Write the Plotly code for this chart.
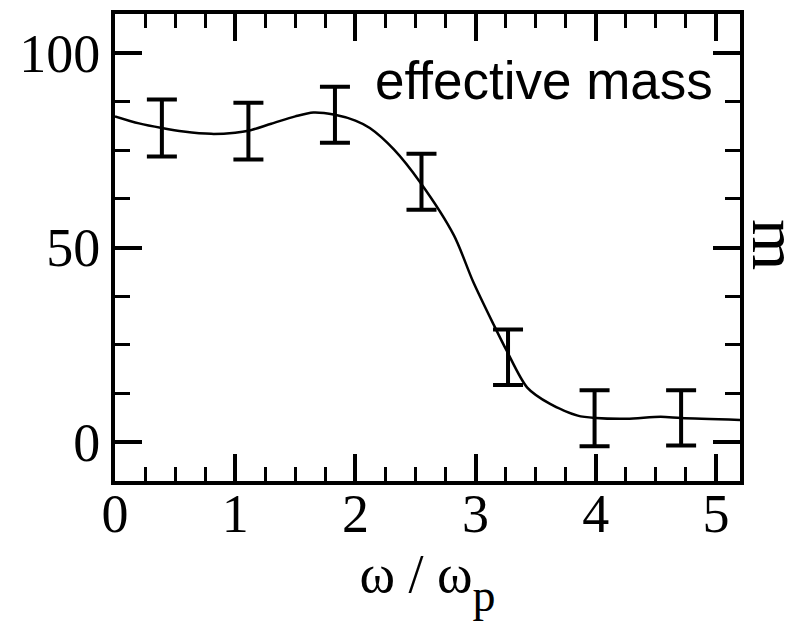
import plotly.graph_objects as go

# Data
pts_x = [0.39, 1.11, 1.83, 2.55, 3.27, 3.99, 4.71]
pts_y = [80.7, 79.9, 84.1, 66.9, 21.8, 6.1, 6.2]
pts_err = [7.3, 7.3, 7.2, 7.2, 7.1, 7.2, 7.1]

curve_x = [0.0, 0.2, 0.39, 0.57, 0.8, 1.0, 1.11, 1.3, 1.5, 1.65, 1.83, 2.0, 2.12,
           2.32, 2.54, 2.82, 2.98, 3.15, 3.26, 3.43, 3.62, 3.85, 4.0, 4.26, 4.54,
           4.71, 5.2]
curve_y = [83.7, 81.9, 80.7, 79.8, 79.2, 79.5, 80.0, 81.8, 83.7, 84.7, 84.1, 82.6,
           80.7, 75.2, 66.7, 53.1, 41.2, 30.2, 23.4, 14.0, 9.8, 6.8, 6.2, 6.0,
           6.5, 6.2, 5.7]

x_ticks = [0, 1, 2, 3, 4, 5]
y_ticks = [0, 50, 100]

serif = "Liberation Serif, Times New Roman, serif"
sans = "Liberation Sans, Arial, sans-serif"

fig = go.Figure()
fig.add_trace(go.Scatter(
    x=curve_x, y=curve_y, mode="lines",
    line=dict(color="black", width=2.5, shape="spline", smoothing=0.8),
    showlegend=False, hoverinfo="skip"))
fig.add_trace(go.Scatter(
    x=pts_x, y=pts_y, mode="markers",
    marker=dict(size=1, color="rgba(0,0,0,0)"),
    error_y=dict(type="data", array=pts_err, visible=True,
                 color="black", thickness=4, width=15),
    showlegend=False))

axis_common = dict(
    showline=True, linecolor="black", linewidth=4, mirror="allticks",
    ticks="inside", tickcolor="black", tickwidth=4, ticklen=27,
    showgrid=False, zeroline=False,
    tickfont=dict(family=serif, size=54, color="black"),
)

fig.update_xaxes(
    range=[0, 5.2], tickvals=x_ticks, ticktext=[str(v) for v in x_ticks],
    ticklabelstandoff=-18,
    minor=dict(dtick=0.25, ticks="inside", ticklen=14, tickwidth=3,
               tickcolor="black", showgrid=False),
    title=dict(text="ω / ω<sub><sub><span style=\"font-size:46px\">p</span></sub></sub>",
               font=dict(family=serif, size=54, color="black"),
               standoff=2),
    **axis_common)
fig.update_yaxes(
    range=[-10, 110], tickvals=y_ticks, ticktext=[str(v) for v in y_ticks],
    minor=dict(dtick=12.5, tick0=0, ticks="inside", ticklen=15, tickwidth=3,
               tickcolor="black", showgrid=False),
    **axis_common)

fig.add_annotation(text="effective mass", xref="paper", yref="paper",
                   x=0.6856, y=0.857, xanchor="center", yanchor="middle",
                   showarrow=False, font=dict(family=sans, size=53, color="black"))
fig.add_annotation(text="m", xref="paper", yref="paper",
                   x=1.058, y=0.507, xanchor="center", yanchor="middle",
                   textangle=90, showarrow=False,
                   font=dict(family=serif, size=66, color="black"))

fig.update_layout(
    width=800, height=622,
    margin=dict(l=115, r=60, t=10, b=141),
    paper_bgcolor="white", plot_bgcolor="white",
)

fig.write_html("out.html")
